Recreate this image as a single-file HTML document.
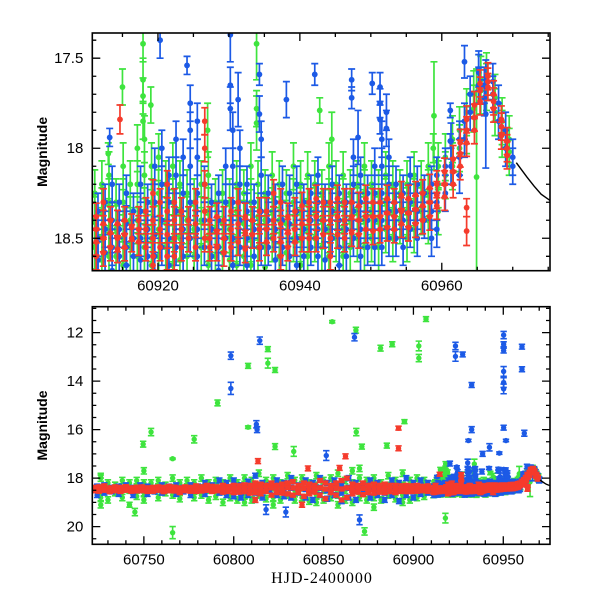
<!DOCTYPE html>
<html><head><meta charset="utf-8"><title>Light curve</title>
<style>
html,body{margin:0;padding:0;background:#fff;}
svg{display:block;}
text{font-family:"Liberation Sans",sans-serif;fill:#000;}
</style></head>
<body>
<svg id="chart" width="600" height="600" viewBox="0 0 600 600" xmlns="http://www.w3.org/2000/svg"></svg>
<script>
// ---------------- data ----------------
const redT = [60722,60725,60728,60731,60734,60737,60740,60743,60746,60749,60752,60755,60758,60761,60764,60767,60770,60773,60776,60779,60782,60785,60788,60791,60794,60797,60800,60803,60806,60809,60812,60815,60818,60821,60824,60827,60830,60833,60836,60839,60842,60845,60848,60851,60854,60857,60860,60863,60866,60869,60872,60875,60878,60881,60884,60887,60890,60893,60896,60899,60902,60905,60908,
60911.3,60912.3,60913.3,60914.3,60915.3,60916.3,60917.3,60918.3,60919.3,60920.3,60921.3,60922.3,60923.3,60924.3,60925.3,60926.6,60927.3,60928.3,60929.3,60930.3,60931.3,60932.3,60933.3,60934.3,60935.3,60936.3,60937.3,60938.3,60939.3,60940.3,60941.3,60942.3,60943.3,60944.3,60945.3,60946.3,60947.3,60948.3,60949.3,60950.3,60951.3,60952.3,60953.3,60954.3,60955.3,60956.3,60957.3,60958.3,60959.3,60960.4,60961.6,60962.6,60963.5,60964.6,60965.4,60966.5,60967.3,60968.4,60969.2];
const redM = [[18.38,18.46,18.52],[18.36,18.44,18.54],[18.32,18.42,18.5],[18.4,18.48,18.56],[18.36,18.45,18.52],[18.38,18.46,18.55],[18.35,18.44,18.5],[18.4,18.47,18.54],[18.37,18.45,18.53],[18.36,18.44,18.52],[18.4,18.48,18.55],[18.38,18.46,18.54],[18.36,18.44,18.5],[18.38,18.47,18.56],[18.34,18.44,18.52],[18.37,18.45,18.53],[18.4,18.48,18.6],[18.36,18.44,18.52],[18.38,18.46,18.54],[18.32,18.43,18.55],[18.36,18.45,18.53],[18.3,18.42,18.5],[18.34,18.44,18.55],[18.36,18.45,18.52],[18.3,18.42,18.58],[18.35,18.45,18.55],[18.3,18.44,18.6],[18.32,18.46,18.58],[18.28,18.42,18.56],[18.3,18.44,18.62],[18.2,18.4,18.6],[18.25,18.45,18.65],[18.3,18.42,18.55],[18.2,18.4,18.7],[18.3,18.45,18.6],[18.25,18.42,18.62],[18.2,18.4,18.65],[18.15,18.4,18.7],[18.3,18.45,18.6],[18.2,18.42,18.75],[18.25,18.45,18.65],[18.3,18.44,18.58],[18.1,18.4,18.7],[18.2,18.45,18.85],[18.3,18.44,18.6],[18.2,18.42,18.7],[18.1,18.45,18.9],[18.0,18.4,18.8],[18.25,18.45,18.65],[18.3,18.44,18.58],[18.2,18.42,18.68],[18.3,18.46,18.6],[18.25,18.42,18.62],[18.3,18.44,18.58],[18.25,18.42,18.6],[18.3,18.44,18.56],[18.3,18.45,18.6],[18.32,18.44,18.55],[18.3,18.42,18.56],[18.32,18.44,18.55],[18.3,18.42,18.54],[18.34,18.44,18.52],[18.32,18.43,18.54],
[18.38,18.45,18.52,18.6],[18.3,18.42,18.5,18.58],[18.4,18.47,18.55],[18.42,18.5,18.56],[18.4,18.48,18.55],[18.44,18.5],[18.4,18.45,18.52],[18.35,18.45,18.55],[18.25,18.4,18.5,18.6,18.65],[18.3,18.45,18.55],[18.2,18.35,18.48,18.6],[18.3,18.4,18.5,18.6],[18.35,18.45,18.55],[18.4,18.5],[18.3,18.42,18.55],[17.85,18.0,18.2,18.35,18.5],[18.4,18.5,18.55],[18.38,18.46,18.55],[18.4,18.5,18.58],[18.35,18.45,18.55],[18.3,18.42,18.52],[18.38,18.47,18.56],[18.4,18.48],[18.35,18.45,18.55],[18.35,18.45,18.52],[18.25,18.4,18.5],[18.3,18.42,18.52,18.6],[18.38,18.47,18.55],[18.35,18.45,18.52],[18.32,18.42,18.5],[18.3,18.4,18.5],[18.28,18.38,18.5],[18.3,18.4,18.48],[18.3,18.4,18.5,18.6],[18.28,18.38,18.48],[18.3,18.4,18.5],[18.3,18.38,18.47],[18.32,18.4,18.48],[18.28,18.38,18.45],[18.3,18.38,18.46],[18.3,18.38,18.45],[18.28,18.36,18.44],[18.3,18.38,18.45],[18.26,18.35,18.42],[18.28,18.36,18.44],[18.26,18.34,18.42],[18.25,18.32,18.4],[18.22,18.3,18.38],[18.2,18.26,18.32],[18.13,18.2,18.27],[18.06,18.13,18.2],[17.97,18.03,18.1],[17.84,17.9,17.97],[17.76,17.83,17.9],[17.64,17.68,17.74],[17.6,17.63,17.66],[17.7,17.74,17.78],[17.84,17.88,17.93],[17.96,18.0,18.04]];
const redErr = [0.075];
const redOT = [60914.65,60813.5,60841.3,60862.2,60858.9,60891.7,60891.7,60963.5,60963.5,60838,60812];
const redOM = [17.84,17.3,17.6,17.1,17.58,15.94,16.77,18.33,18.46,19.1,18.9];
const redOE = [0.08,0.1,0.1,0.1,0.1,0.08,0.1,0.05,0.08,0.1,0.1];

const blueT = [60724,60728,60732,60736,60740,60744,60748,60752,60756,60760,60764,60768,60772,60776,60780,60784,60788,60792,60796,60800,60804,60808,60812,60816,60820,60824,60828,60832,60836,60840,60844,60848,60852,60856,60860,60864,60868,60872,60876,60880,60884,60888,60892,60896,60900,60904,60908,
60911.55,60912.55,60913.55,60914.55,60915.55,60916.55,60917.55,60918.55,60919.55,60920.55,60921.55,60922.55,60923.55,60924.55,60925.55,60926.55,60927.55,60928.55,60929.55,60930.55,60931.55,60932.55,60933.55,60934.55,60935.55,60936.55,60937.55,60938.55,60939.55,60940.55,60941.55,60942.55,60943.55,60944.55,60945.55,60946.55,60947.55,60948.55,60949.55,60950.55,60951.55,60952.55,60953.55,60954.55,60955.55,60956.55,60957.55,60958.55,60959.3,60960.5,60961.3,60962.5,60963.2,60964,60965.2,60966,60967.2,60968,60969,60970];
const blueM = [[18.35,18.5,18.7],[18.3,18.45,18.6],[18.4,18.55],[18.35,18.5,18.65],[18.3,18.45],[18.4,18.55,18.7],[18.3,18.5],[18.35,18.5,18.65],[18.4,18.55],[18.3,18.45,18.6],[18.35,18.5],[18.3,18.45,18.65],[18.4,18.55],[18.3,18.5,18.7],[18.35,18.5],[18.2,18.45,18.65],[18.3,18.5],[18.1,18.4,18.6],[18.2,18.45,18.7],[18.1,18.4,18.75],[18.3,18.5,18.8],[18.15,18.4,18.7],[17.9,18.3,18.6,18.9],[18.2,18.5,18.8],[18.3,18.5],[18.1,18.4,18.7],[18.2,18.5,18.75],[18.0,18.4,18.8],[18.3,18.6],[18.1,18.45,18.8],[18.2,18.5,18.9],[18.0,18.4,18.7],[18.2,18.5,18.85],[18.1,18.4,18.7],[18.3,18.6,18.95],[18.0,18.4,18.8],[18.2,18.5,18.9],[18.3,18.6],[18.1,18.45,18.8],[18.2,18.5,18.7],[18.3,18.6,18.9],[18.1,18.4,18.7],[18.2,18.5,18.95],[18.0,18.4,18.7],[18.2,18.5,18.8],[18.1,18.4,18.65],[18.2,18.45,18.6],
[18.35,18.5,18.62,18.7],[18.3,18.45,18.58],[18.2,18.4,18.55,18.68],[18.3,18.45,18.6],[18.25,18.42,18.55,18.65],[18.35,18.5,18.6],[18.2,18.35,18.5,18.62],[18.3,18.45,18.6],[18.1,18.3,18.48,18.6],[18.0,18.2,18.4,18.55],[18.15,18.3,18.5,18.65],[17.95,18.15,18.35,18.55],[18.05,18.25,18.45,18.6],[17.75,17.9,18.1,18.3,18.5],[17.85,18.05,18.25,18.45,18.6],[18.2,18.4,18.55],[18.3,18.45,18.6],[18.25,18.4,18.55,18.68],[18.1,18.3,18.5],[17.9,18.1,18.3,18.5,18.65],[18.0,18.2,18.4,18.55],[18.2,18.35,18.5,18.65],[18.3,18.45,18.6],[17.95,18.15,18.35,18.55],[18.25,18.4,18.55],[18.3,18.45,18.62],[18.2,18.4,18.55],[18.25,18.42,18.6],[18.2,18.35,18.5,18.65],[18.3,18.45,18.6],[18.25,18.4,18.55],[18.15,18.3,18.45,18.6],[18.3,18.45,18.62],[18.2,18.35,18.5],[18.25,18.4,18.55,18.65],[18.3,18.45,18.6],[18.05,18.2,18.35,18.5],[18.15,18.3,18.45,18.6],[18.25,18.4,18.55],[18.1,18.25,18.4,18.55],[17.95,18.1,18.25,18.4,18.55],[18.05,18.2,18.35,18.5],[18.2,18.35,18.5],[18.25,18.4,18.55],[18.15,18.3,18.45],[18.2,18.35,18.5],[18.25,18.4],[18.2,18.35,18.5],[18.15,18.3,18.45],[18.1,18.25],[17.96,18.1],[17.95,18.05,18.15],[17.85,17.95],[17.7,17.8],[17.56,17.58,17.65],[17.65,17.72],[17.63,17.7],[17.75,17.85],[17.9,18.0],[18.05,18.1]];
const blueErr = [0.1];
const blueOT = [60798.4,60798.4,60814.5,60812.6,60813,60851.5,60867.2,60923.4,60923.4,60927.4,60932.4,60932.4,60950.2,60950.2,60950.2,60950.2,60950.2,60950.2,60960.4,60960.4,60950.2,60951.5,60961.7,60930.6,60942.3,60938.5,60947.8,60870,60818,60829,
60913.2,60924.1,60930.2,60930.2,60930.2,60938.1,60942.1,60934.3,60934.3,60931.3,60947.3,60947.3,60950.2,60951.3,60951.3,60951.3,60952.2,60952.2,60948.2,60963.2,60966.2,60961.2,60961.2,60920.3];
const blueOM = [12.95,14.3,12.33,15.78,16.0,17.07,12.19,12.55,12.98,12.9,14.16,16.0,12.1,12.48,12.74,13.6,14.06,14.32,12.58,13.51,15.92,16.45,16.15,16.45,16.73,17.0,16.97,19.72,19.3,19.4,
17.94,17.54,17.37,17.65,17.78,17.73,17.59,17.59,17.81,17.73,17.62,17.72,17.64,17.66,17.75,17.84,17.8,17.89,17.94,17.52,17.81,17.79,17.96,17.4];
const blueOE = [0.15,0.25,0.15,0.15,0.12,0.2,0.15,0.15,0.2,0.1,0.1,0.12,0.15,0.1,0.1,0.2,0.2,0.2,0.1,0.1,0.1,0.05,0.12,0.05,0.15,0.1,0.05,0.2,0.2,0.2,
0.05,0.05,0.15,0.1,0.12,0.1,0.06,0.06,0.1,0.15,0.06,0.06,0.06,0.08,0.08,0.08,0.1,0.1,0.15,0.09,0.3,0.04,0.04,0.1];

const greenT = [60726,60730,60734,60738,60742,60746,60750,60754,60758,60762,60766,60770,60774,60778,60782,60786,60790,60794,60798,60802,60806,60810,60814,60818,60822,60826,60830,60834,60838,60842,60846,60850,60854,60858,60862,60866,60870,60874,60878,60882,60886,60890,60894,60898,60902,60906,
60911.1,60912.1,60913.1,60914.1,60915.1,60916.1,60917.1,60918.1,60919.1,60920.1,60921.1,60922.1,60923.1,60924.1,60925.1,60926.1,60927.1,60928.1,60929.1,60930.1,60931.1,60932.1,60933.1,60934.1,60935.1,60936.1,60937.1,60938.1,60939.1,60940.1,60941.1,60942.1,60943.1,60944.1,60945.1,60946.1,60947.1,60948.1,60949.1,60950.1,60951.1,60952.1,60953.1,60954.1,60955.1,60956.1,60957.1,60958.1,60959.5,60960.5,60961.5,60962.5,60963.5,60964.5,60965.5,60966.3,60967.5,60968.5,60969.5];
const greenM = [[18.0,18.4,18.8,19.1],[18.2,18.5,18.9],[18.3,18.6],[18.1,18.45,18.8],[18.2,18.5],[18.1,18.4,18.75],[17.7,18.2,18.6,18.9],[18.2,18.5],[18.1,18.45,18.8],[18.3,18.6],[18.0,18.4,18.7],[18.2,18.5,18.85],[18.1,18.4],[18.2,18.5,18.8],[18.0,18.4,18.7],[18.2,18.5,18.9],[18.1,18.4,18.75],[18.2,18.55,19.0],[18.0,18.4,18.8],[18.2,18.5,18.9],[18.0,18.4,18.7,19.0],[18.1,18.5,18.9],[17.8,18.3,18.7],[18.1,18.5,18.85],[18.0,18.4,18.8,19.1],[18.2,18.5,18.9],[17.9,18.3,18.7],[18.1,18.5,18.9],[18.0,18.4,18.8],[18.2,18.5,18.95],[17.9,18.3,18.7,19.0],[18.1,18.5,18.9],[18.0,18.4,18.8],[17.8,18.3,18.7,19.1],[18.1,18.5,18.9],[17.7,18.2,18.6,19.0],[17.6,18.0,18.4,18.8],[18.1,18.5,18.9],[18.0,18.4,18.8,19.2],[18.2,18.5,18.9],[17.9,18.3,18.7],[18.1,18.5,18.85],[17.8,18.3,18.7,19.0],[18.1,18.5,18.9],[18.0,18.4,18.8],[18.1,18.45,18.75],
[18.25,18.4,18.55,18.68],[18.2,18.35,18.5,18.62],[18.15,18.3,18.45,18.6],[18.3,18.45,18.6],[18.1,18.3,18.5,18.65],[18.2,18.4,18.55],[18.0,18.2,18.4,18.6],[17.95,18.15,18.35,18.55],[18.1,18.3,18.5,18.65],[18.05,18.25,18.45,18.6],[18.2,18.4,18.55],[18.1,18.3,18.5,18.65],[18.2,18.35,18.5,18.62],[18.25,18.4,18.6],[18.3,18.45,18.6],[18.2,18.4,18.55],[18.15,18.35,18.5,18.65],[18.3,18.45,18.6],[18.25,18.42,18.58],[18.3,18.45,18.62],[18.2,18.35,18.5,18.65],[18.25,18.42,18.6],[18.1,18.3,18.5,18.65],[18.2,18.38,18.55],[18.25,18.4,18.55,18.66],[18.15,18.35,18.5],[18.2,18.4,18.6],[18.25,18.42,18.58],[18.1,18.3,18.5],[18.2,18.35,18.5,18.65],[18.15,18.3,18.45,18.6],[18.2,18.35,18.5],[18.25,18.4,18.55],[18.1,18.3,18.45,18.6],[18.2,18.35,18.5],[18.15,18.3,18.45,18.6],[18.25,18.4,18.55],[18.2,18.35,18.5],[18.1,18.25,18.4,18.55],[18.2,18.35,18.5],[18.25,18.4,18.55],[18.15,18.3,18.45],[18.2,18.35,18.5],[18.25,18.4],[18.2,18.35,18.5],[18.15,18.3,18.45],[18.2,18.35],[18.1,18.25,18.4],[18.1,18.2,18.35],[18.05,18.15],[17.95,18.1],[17.9,18.0],[17.8,17.9],[17.7,17.78],[17.62,17.68],[17.6,17.66],[17.72,17.8],[17.85,17.92],[17.95,18.02]];
const greenErr = [0.13];
const greenOT = [60791,60808,60819,60819,60823,60808,60749.6,60754,60778,60823,60833.4,60766,60766,60854.8,60868,60881.7,60888.2,60903,60903,60907,60895,60868.2,60871.3,60885.2,60872.8,60917.8,60742,60745,60726,
60917.9,60915,60917.9,60917.9,60917.9,60913,60919,60933.9,60933.9,60933.9,60942.8,60958.9,60958.8,60964.9,60927,60944.5];
const greenOM = [14.9,13.37,12.68,13.26,13.54,15.9,16.6,16.1,16.4,16.7,16.9,17.2,20.25,11.55,11.9,12.64,12.48,12.55,13.05,11.44,15.67,16.1,16.7,16.66,20.2,19.65,19.1,19.4,17.9,
17.42,17.66,17.62,17.71,17.85,18.03,17.76,17.42,17.78,17.86,17.79,17.82,18.0,18.16,17.9,17.95];
const greenOE = [0.12,0.1,0.1,0.2,0.1,0.05,0.12,0.15,0.15,0.12,0.2,0.03,0.25,0.05,0.12,0.12,0.1,0.2,0.15,0.1,0.08,0.15,0.1,0.1,0.15,0.2,0.1,0.15,0.1,
0.1,0.1,0.12,0.1,0.1,0.06,0.1,0.2,0.1,0.15,0.07,0.3,0.08,0.6,0.15,0.15];

const modelT = [60970.5,60972,60973,60974,60975.25,60977];
const modelM = [18.08,18.16,18.21,18.255,18.29,18.33];

const topXTicks = [60920,60940,60960];
const topYTicks = [17.5,18,18.5];
const botXTicks = [60750,60800,60850,60900,60950];
const botYTicks = [12,14,16,18,20];

// ---------------- drawing ----------------
const NS = 'http://www.w3.org/2000/svg';
const svg = document.getElementById('chart');
function mk(tag, attrs, parent){ const e=document.createElementNS(NS,tag); for(const k in attrs) e.setAttribute(k,attrs[k]); (parent||svg).appendChild(e); return e; }

const panels = [
 {id:'top', x0:92.3, x1:550, y0:33, y1:270.7, t0:60910.75, t1:60975.25, m0:17.36, m1:18.68, xt:topXTicks, xminor:5, yt:topYTicks, yminor:0.1, cap:3.5, r:2.9, sw:1.7},
 {id:'bottom', x0:92.3, x1:550, y0:306.7, y1:544.3, t0:60721.3, t1:60976, m0:10.93, m1:20.73, xt:botXTicks, xminor:10, yt:botYTicks, yminor:0.5, cap:3.2, r:2.7, sw:1.6}
];
const colors = {green:'#3ee43e', blue:'#1c5ae6', red:'#f53b2c'};

panels.forEach(p=>{
  const X = t => p.x0 + (t-p.t0)/(p.t1-p.t0)*(p.x1-p.x0);
  const Y = m => p.y0 + (m-p.m0)/(p.m1-p.m0)*(p.y1-p.y0);
  const g = mk('g',{});
  
  
  const cp = mk('clipPath',{id:'clip-'+p.id}, g);
  mk('rect',{x:p.x0,y:p.y0,width:p.x1-p.x0,height:p.y1-p.y0}, cp);
  const plot = mk('g',{'clip-path':'url(#clip-'+p.id+')'}, g);
  
  

  function point(t,m,e,col,parent){
    const x=X(t), ya=Y(m-e), yb=Y(m+e);
    mk('path',{d:`M${x},${ya}V${yb}M${x-p.cap},${ya}H${x+p.cap}M${x-p.cap},${yb}H${x+p.cap}`,stroke:col,'stroke-width':p.sw,fill:'none'},parent);
    mk('circle',{cx:x,cy:Y(m),r:p.r,fill:col},parent);
  }
  function series(name,T,M,E,OT,OM,OE){
    const sg = mk('g',{},plot);
    
    
    const col = colors[name];
    T.forEach((t,i)=>{ if(t<p.t0-1||t>p.t1+1) return; M[i].forEach(m=>point(t,m,E[0],col,sg)); });
    OT.forEach((t,i)=>{ if(t<p.t0-1||t>p.t1+1) return; point(t,OM[i],OE[i],col,sg); });
  }
  series('green',greenT,greenM,greenErr,greenOT,greenOM,greenOE);
  series('blue',blueT,blueM,blueErr,blueOT,blueOM,blueOE);
  series('red',redT,redM,redErr,redOT,redOM,redOE);
  const md = modelT.map((t,i)=>(i?'L':'M')+X(t)+','+Y(modelM[i])).join('');
  const ml = mk('path',{d:md,stroke:'#000','stroke-width':1.4,fill:'none'},plot);
  
  

  const fr = mk('rect',{x:p.x0,y:p.y0,width:p.x1-p.x0,height:p.y1-p.y0,fill:'none',stroke:'#000','stroke-width':1.6},g);
  
  
  let d='';
  const ts = Math.ceil(p.t0/p.xminor)*p.xminor;
  for(let t=ts;t<=p.t1;t+=p.xminor){
    const x=X(t); const major = p.xt.includes(t); const L= major?8:4;
    d+=`M${x},${p.y1}v${-L}M${x},${p.y0}v${L}`;
  }
  const ms = Math.ceil(p.m0/p.yminor-1e-6)*p.yminor;
  for(let k=0;;k++){
    const m = +(ms + k*p.yminor).toFixed(3); if(m>p.m1) break;
    const y=Y(m); const major = p.yt.some(v=>Math.abs(v-m)<1e-6); const L= major?8:4;
    d+=`M${p.x0},${y}h${L}M${p.x1},${y}h${-L}`;
  }
  const tk = mk('path',{d:d,stroke:'#000','stroke-width':1.3,fill:'none'},g);
  
  
  p.xt.forEach(t=>{
    const tx = mk('text',{x:X(t),y:p.y1+20,'text-anchor':'middle','font-size':15},g);
    tx.textContent = String(t);
    
    
  });
  p.yt.forEach(m=>{
    const tx = mk('text',{x:p.x0-9,y:Y(m)+5,'text-anchor':'end','font-size':15},g);
    tx.textContent = String(m);
    
    
  });
  const yl = mk('text',{x:0,y:0,'text-anchor':'middle','font-size':14,'font-weight':'bold',transform:`translate(47,${(p.y0+p.y1)/2}) rotate(-90)`},g);
  yl.textContent = 'Magnitude';
  
  
});
const xt = mk('text',{x:322,y:583,'text-anchor':'middle','font-size':16,style:'font-family:"Liberation Serif",serif;letter-spacing:1px'});
xt.textContent = 'HJD-2400000';


</script>
</body></html>
